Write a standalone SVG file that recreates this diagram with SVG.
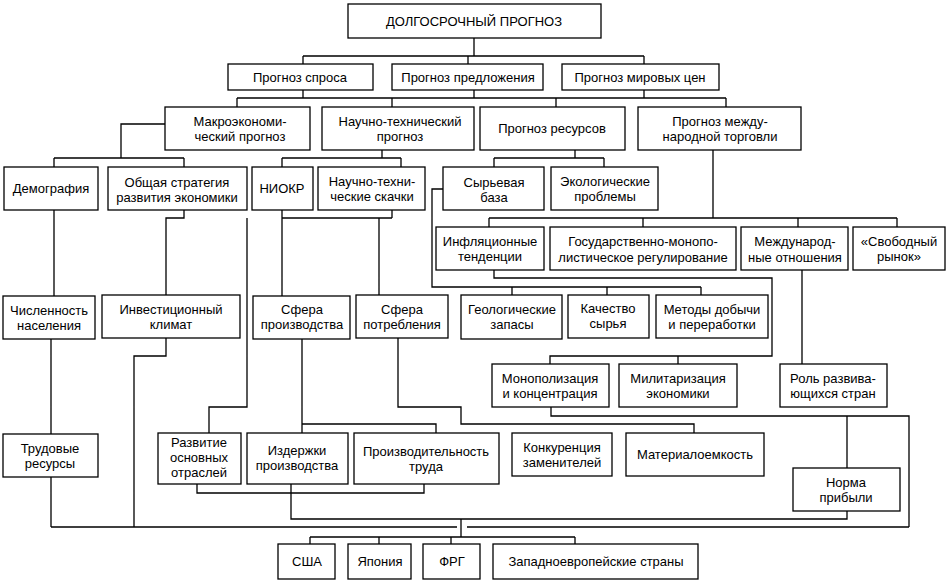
<svg xmlns="http://www.w3.org/2000/svg" width="951" height="586" viewBox="0 0 951 586">
<style>
rect{fill:#fff;stroke:#000;stroke-width:1.3}
text{font-family:"Liberation Sans",Arial,sans-serif;font-size:13px;text-anchor:middle;fill:#000}
#conn path{fill:none;stroke:#000;stroke-width:1.3}
</style>
<rect x="0" y="0" width="951" height="586" style="stroke:none"/>
<g id="conn"><path d="M474 38V56M303 56H644M303 56V64M468 56V64M644 56V64
M303 90V98M474 90V98M644 90V98M237 98H726M237 98V107M392 98V107M556 98V107M726 98V107
M165 124H121V158M54 158H184M54 158V167M184 158V167
M382 150V158M282 158H401M282 158V167M401 158V167
M575 150V158M494 158H604M494 158V167M604 158V167
M713 150V218M489 218H897M489 218V227M643 218V227M798 218V227M897 218V227
M443 189H432V287H701M512 287V295M607 287V295M701 287V295
M494 270V278H772V356H550V364M678 356V364
M802 270V364
M551 407V416H909V527M847 416V468M847 511V519H291V484M197 484V493H424V484
M51 527H457M467 527H909M461 519V537M310 537H575M310 537V544M379 537V544M451 537V544M575 537V544
M54 210V296M51 339V434M51 477V527
M184 210V218H166V295M247 218V407H209V433M166 338V356H134V527
M282 210V296M392 210V218M282 218H392M379 218V295
M302 339V433M302 424H436V433
M398 338V407H461V424H694V433"/></g>
<g id="n_top"><rect x="348" y="4" width="253" height="34"/><text x="474" y="26">ДОЛГОСРОЧНЫЙ ПРОГНОЗ</text></g>
<g id="n_spros"><rect x="228" y="64" width="145" height="26"/><text x="300" y="82">Прогноз спроса</text></g>
<g id="n_predl"><rect x="392" y="64" width="151" height="26"/><text x="468" y="82">Прогноз предложения</text></g>
<g id="n_ceny"><rect x="562" y="64" width="157" height="26"/><text x="640" y="82">Прогноз мировых цен</text></g>
<g id="n_makro"><rect x="165" y="107" width="145" height="43"/><text x="240" y="126">Макроэкономи-</text><text x="240" y="141">ческий прогноз</text></g>
<g id="n_nauch"><rect x="322" y="107" width="152" height="43"/><text x="400" y="126">Научно-технический</text><text x="400" y="141">прогноз</text></g>
<g id="n_res"><rect x="480" y="107" width="145" height="43"/><text x="552" y="133">Прогноз ресурсов</text></g>
<g id="n_mezh"><rect x="638" y="107" width="163" height="43"/><text x="720" y="126">Прогноз между-</text><text x="720" y="141">народной торговли</text></g>
<g id="n_demo"><rect x="4" y="167" width="94" height="43"/><text x="51" y="193">Демография</text></g>
<g id="n_strat"><rect x="108" y="167" width="139" height="43"/><text x="177" y="187">Общая стратегия</text><text x="177" y="202">развития экономики</text></g>
<g id="n_niokr"><rect x="252" y="167" width="61" height="43"/><text x="282" y="193">НИОКР</text></g>
<g id="n_skach"><rect x="318" y="167" width="107" height="43"/><text x="372" y="186">Научно-техни-</text><text x="372" y="201">ческие скачки</text></g>
<g id="n_syr"><rect x="443" y="167" width="101" height="43"/><text x="494" y="187">Сырьевая</text><text x="494" y="202">база</text></g>
<g id="n_eko"><rect x="551" y="167" width="107" height="43"/><text x="605" y="186">Экологические</text><text x="605" y="201">проблемы</text></g>
<g id="n_infl"><rect x="436" y="227" width="108" height="43"/><text x="490" y="246">Инфляционные</text><text x="490" y="261">тенденции</text></g>
<g id="n_gos"><rect x="550" y="227" width="186" height="43"/><text x="643" y="246">Государственно-монопо-</text><text x="643" y="262">листическое регулирование</text></g>
<g id="n_mo"><rect x="741" y="227" width="107" height="43"/><text x="795" y="246">Международ-</text><text x="795" y="262">ные отношения</text></g>
<g id="n_svob"><rect x="853" y="227" width="92" height="43"/><text x="899" y="246">«Свободный</text><text x="899" y="261">рынок»</text></g>
<g id="n_chisl"><rect x="3" y="296" width="92" height="43"/><text x="49" y="315">Численность</text><text x="49" y="330">населения</text></g>
<g id="n_invest"><rect x="102" y="295" width="138" height="43"/><text x="171" y="314">Инвестиционный</text><text x="171" y="329">климат</text></g>
<g id="n_sfpr"><rect x="253" y="296" width="97" height="43"/><text x="302" y="314">Сфера</text><text x="302" y="329">производства</text></g>
<g id="n_sfpo"><rect x="356" y="295" width="92" height="43"/><text x="402" y="314">Сфера</text><text x="402" y="329">потребления</text></g>
<g id="n_geo"><rect x="461" y="295" width="101" height="44"/><text x="512" y="314">Геологические</text><text x="512" y="329">запасы</text></g>
<g id="n_kach"><rect x="568" y="295" width="81" height="43"/><text x="608" y="313">Качество</text><text x="608" y="328">сырья</text></g>
<g id="n_met"><rect x="656" y="295" width="112" height="43"/><text x="712" y="314">Методы добычи</text><text x="712" y="329">и переработки</text></g>
<g id="n_mono"><rect x="492" y="364" width="117" height="43"/><text x="550" y="383">Монополизация</text><text x="550" y="398">и концентрация</text></g>
<g id="n_mil"><rect x="619" y="364" width="118" height="43"/><text x="678" y="383">Милитаризация</text><text x="678" y="398">экономики</text></g>
<g id="n_rol"><rect x="780" y="364" width="107" height="43"/><text x="833" y="383">Роль развива-</text><text x="833" y="398">ющихся стран</text></g>
<g id="n_trud"><rect x="3" y="434" width="95" height="43"/><text x="50" y="453">Трудовые</text><text x="50" y="468">ресурсы</text></g>
<g id="n_razv"><rect x="158" y="433" width="83" height="51"/><text x="199" y="447">Развитие</text><text x="199" y="462">основных</text><text x="199" y="477">отраслей</text></g>
<g id="n_izd"><rect x="247" y="433" width="101" height="51"/><text x="297" y="455">Издержки</text><text x="297" y="470">производства</text></g>
<g id="n_proizv"><rect x="354" y="433" width="145" height="51"/><text x="426" y="456">Производительность</text><text x="426" y="471">труда</text></g>
<g id="n_konk"><rect x="512" y="433" width="100" height="43"/><text x="562" y="452">Конкуренция</text><text x="562" y="467">заменителей</text></g>
<g id="n_mat"><rect x="626" y="433" width="138" height="43"/><text x="695" y="459">Материалоемкость</text></g>
<g id="n_norma"><rect x="793" y="468" width="107" height="43"/><text x="846" y="487">Норма</text><text x="846" y="502">прибыли</text></g>
<g id="n_usa"><rect x="278" y="544" width="57" height="35"/><text x="307" y="566">США</text></g>
<g id="n_jap"><rect x="348" y="544" width="63" height="35"/><text x="380" y="566">Япония</text></g>
<g id="n_frg"><rect x="423" y="544" width="57" height="35"/><text x="452" y="566">ФРГ</text></g>
<g id="n_zap"><rect x="493" y="544" width="205" height="35"/><text x="596" y="566">Западноевропейские страны</text></g>
</svg>
